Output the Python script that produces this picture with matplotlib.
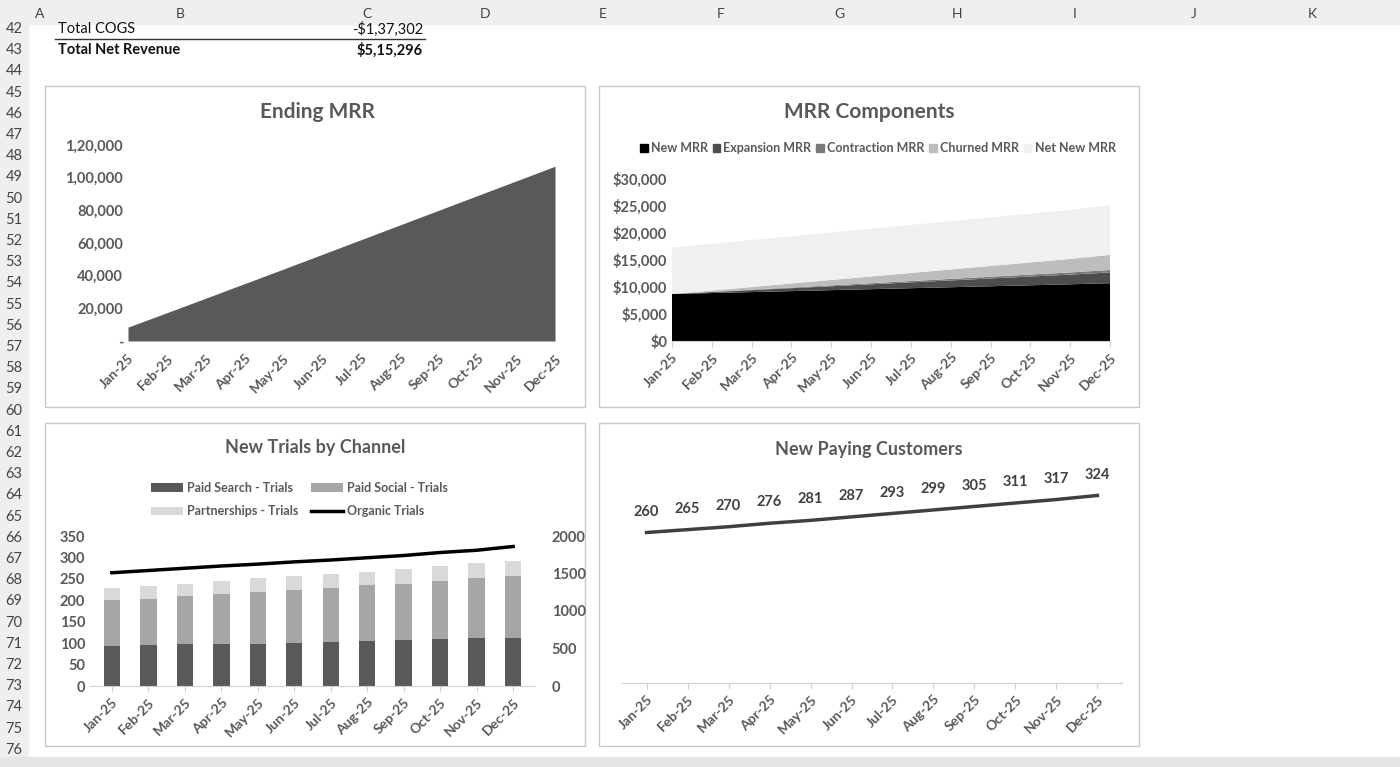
import numpy as np
import matplotlib.pyplot as plt
import matplotlib.patches as mpatches
from matplotlib.ticker import FuncFormatter

plt.rcParams['font.family'] = ['Lato', 'DejaVu Sans']

# ── data ──────────────────────────────────────────────
months = ["Jan-25", "Feb-25", "Mar-25", "Apr-25", "May-25", "Jun-25",
          "Jul-25", "Aug-25", "Sep-25", "Oct-25", "Nov-25", "Dec-25"]
ending_mrr = [8500, 17300, 26200, 35100, 44000, 53000,
              62000, 71000, 80000, 89000, 98000, 107000]

new_mrr = [8700, 8880, 9060, 9240, 9420, 9600, 9780, 9960, 10140, 10320, 10500, 10700]
expansion_mrr = [0, 180, 360, 540, 720, 900, 1080, 1260, 1440, 1620, 1800, 2000]
contraction_mrr = [0, 40, 80, 120, 160, 200, 240, 280, 320, 360, 400, 450]
churned_mrr = [0, 250, 500, 750, 1000, 1250, 1500, 1750, 2000, 2250, 2500, 2800]
net_new_mrr = [8600, 8650, 8700, 8750, 8800, 8850, 8900, 8950, 9000, 9050, 9100, 9200]

paid_search = [94, 95, 97, 98, 99, 101, 103, 105, 107, 109, 111, 113]
paid_social = [106, 109, 112, 116, 120, 124, 126, 130, 132, 136, 140, 144]
partnerships = [29, 30, 30, 31, 32, 31, 32, 32, 34, 34, 35, 35]
organic = [1510, 1540, 1570, 1600, 1625, 1655, 1680, 1710, 1740, 1780, 1810, 1860]

new_customers = [260, 265, 270, 276, 281, 287, 293, 299, 305, 311, 317, 324]

col_letters = ["A", "B", "C", "D", "E", "F", "G", "H", "I", "J", "K"]
col_x = [40, 180, 367, 485, 603, 721, 839, 957, 1075, 1194, 1312]
rows = list(range(42, 77))

W, H = 1400, 767
TXT = "#595959"
fig = plt.figure(figsize=(W / 100, H / 100), dpi=100)
fig.patch.set_facecolor("white")


def rect(x0, y0, x1, y1):
    return [x0 / W, 1 - y1 / H, (x1 - x0) / W, (y1 - y0) / H]


# ── spreadsheet chrome ───────────────────────────────
bg = fig.add_axes([0, 0, 1, 1])
bg.set_xlim(0, W)
bg.set_ylim(H, 0)
bg.axis("off")
bg.add_patch(mpatches.Rectangle((0, 0), W, 24, color="#efefef", zorder=0))
bg.add_patch(mpatches.Rectangle((0, 0), 28, H, color="#efefef", zorder=0))
bg.add_patch(mpatches.Rectangle((0, 757), W, 10, color="#e6e6e6", zorder=0))
for x, c in zip(col_x, col_letters):
    bg.text(x, 14, c, ha="center", va="center", fontsize=10, color="#444444")
for i, r in enumerate(rows):
    bg.text(14, 29 + i * 21.2, str(r), ha="center", va="center", fontsize=10.5, color="#444444")
bg.text(58, 29, "Total COGS", fontsize=10.5, va="center", color="#111111")
bg.text(423, 29, "-$1,37,302", fontsize=10.5, va="center", ha="right", color="#111111")
bg.plot([55, 425], [39, 39], color="#333333", lw=1)
bg.text(58, 50, "Total Net Revenue", fontsize=10.5, va="center", weight="bold", color="#111111")
bg.text(423, 50, "$5,15,296", fontsize=10.5, va="center", ha="right", weight="bold", color="#111111")
for (x0, y0, x1, y1) in [(45, 86, 585, 407), (599, 86, 1139, 407),
                         (45, 423, 585, 746), (599, 423, 1139, 746)]:
    bg.add_patch(mpatches.Rectangle((x0, y0), x1 - x0, y1 - y0, fill=False,
                                    ec="#c8c8c8", lw=1))

titles = [("Ending MRR", 317, 112, 15), ("MRR Components", 869, 112, 15),
          ("New Trials by Channel", 315, 448, 13), ("New Paying Customers", 869, 449, 13)]
for t, x, y, fs in titles:
    bg.text(x, y, t, ha="center", va="center", fontsize=fs, weight="bold", color=TXT)


def style(ax):
    for s in ["top", "right", "left"]:
        ax.spines[s].set_visible(False)
    ax.spines["bottom"].set_color("#d0d0d0")
    ax.tick_params(axis="y", length=0, labelsize=10.5, labelcolor=TXT)
    ax.tick_params(axis="x", labelsize=10, labelcolor=TXT, color="#d0d0d0")
    for lab in ax.get_yticklabels() + ax.get_xticklabels():
        lab.set_fontweight("bold")


x = np.arange(len(months))

# ── Ending MRR ───────────────────────────────────────
ax1 = fig.add_axes(rect(128, 145, 555, 341))
ax1.fill_between(x, ending_mrr, color="#595959", lw=0)
ax1.set_xlim(0, 11)
ax1.set_ylim(0, 120000)
ax1.set_yticks(range(0, 120001, 20000))
ax1.yaxis.set_major_formatter(FuncFormatter(lambda v, p: "-" if v == 0 else
                                            ("1,20,000" if v == 120000 else
                                             ("1,00,000" if v == 100000 else f"{int(v):,}"))))
ax1.set_xticks(x)
ax1.set_xticklabels(months, rotation=45, ha="right", rotation_mode="anchor")
ax1.tick_params(axis="x", length=0, pad=8)
ax1.spines["bottom"].set_visible(False)
style(ax1)

# ── MRR Components ──────────────────────────────────
ax2 = fig.add_axes(rect(672, 179, 1110, 341))
comp = [new_mrr, expansion_mrr, contraction_mrr, churned_mrr, net_new_mrr]
names = ["New MRR", "Expansion MRR", "Contraction MRR", "Churned MRR", "Net New MRR"]
cols = ["#000000", "#4d4d4d", "#7a7a7a", "#bdbdbd", "#f0f0f0"]
ax2.stackplot(x, comp, colors=cols, labels=names, lw=0)
ax2.set_xlim(0, 11)
ax2.set_ylim(0, 30000)
ax2.set_yticks(range(0, 30001, 5000))
ax2.yaxis.set_major_formatter(FuncFormatter(lambda v, p: f"${int(v):,}"))
ax2.set_xticks(x)
ax2.set_xticklabels(months, rotation=45, ha="right", rotation_mode="anchor")
ax2.tick_params(axis="x", length=4)
style(ax2)
leg = ax2.legend(handles=[mpatches.Patch(color=c, label=n) for c, n in zip(cols, names)],
                 loc="center", bbox_to_anchor=(0.47, 1.19), ncol=5, frameon=False,
                 fontsize=9, handlelength=0.6, handleheight=0.6, handletextpad=0.25,
                 columnspacing=0.4)
for t in leg.get_texts():
    t.set_color(TXT)
    t.set_fontweight("bold")

# ── New Trials by Channel ───────────────────────────
ax3 = fig.add_axes(rect(90, 536, 535, 686))
b1 = np.array(paid_search)
b2 = np.array(paid_social)
ax3.bar(x, paid_search, width=0.45, color="#595959", label="Paid Search - Trials")
ax3.bar(x, paid_social, width=0.45, bottom=b1, color="#a6a6a6", label="Paid Social - Trials")
ax3.bar(x, partnerships, width=0.45, bottom=b1 + b2, color="#d9d9d9", label="Partnerships - Trials")
ax3.set_xlim(-0.6, 11.6)
ax3.set_ylim(0, 350)
ax3.set_yticks(range(0, 351, 50))
ax3.set_xticks(x)
ax3.set_xticklabels(months, rotation=45, ha="right", rotation_mode="anchor")
ax3.tick_params(axis="x", length=4)
style(ax3)
ax3b = ax3.twinx()
ax3b.plot(x, organic, color="black", lw=2.5, label="Organic Trials")
ax3b.set_ylim(0, 2000)
ax3b.set_yticks(range(0, 2001, 500))
for s in ax3b.spines.values():
    s.set_visible(False)
ax3b.tick_params(axis="y", length=0, labelsize=10.5, labelcolor=TXT, pad=12)
for lab in ax3b.get_yticklabels():
    lab.set_fontweight("bold")
h1, l1 = ax3.get_legend_handles_labels()
h2, l2 = ax3b.get_legend_handles_labels()
hh = h1 + h2
ll = l1 + l2
order = [0, 2, 1, 3]
leg3 = ax3.legend([hh[i] for i in order], [ll[i] for i in order], loc="lower center",
                  bbox_to_anchor=(0.47, 1.05), ncol=2,
                  frameon=False, fontsize=9, handlelength=2.6, handletextpad=0.3,
                  columnspacing=1.0, labelspacing=0.9)
for t in leg3.get_texts():
    t.set_color(TXT)
    t.set_fontweight("bold")

# ── New Paying Customers ────────────────────────────
ax4 = fig.add_axes(rect(622, 470, 1122, 683))
ax4.plot(x, new_customers, color="#404040", lw=2.5)
for xi, v in zip(x, new_customers):
    ax4.annotate(str(v), (xi, v), xytext=(0, 10), textcoords="offset points",
                 ha="center", va="bottom", fontsize=10.5, weight="bold", color="#404040")
ax4.set_xlim(-0.6, 11.6)
ax4.set_ylim(0, 368)
ax4.set_yticks([])
ax4.set_xticks(x)
ax4.set_xticklabels(months, rotation=45, ha="right", rotation_mode="anchor")
ax4.tick_params(axis="x", length=4)
style(ax4)

fig.savefig("out.png", dpi=100)
